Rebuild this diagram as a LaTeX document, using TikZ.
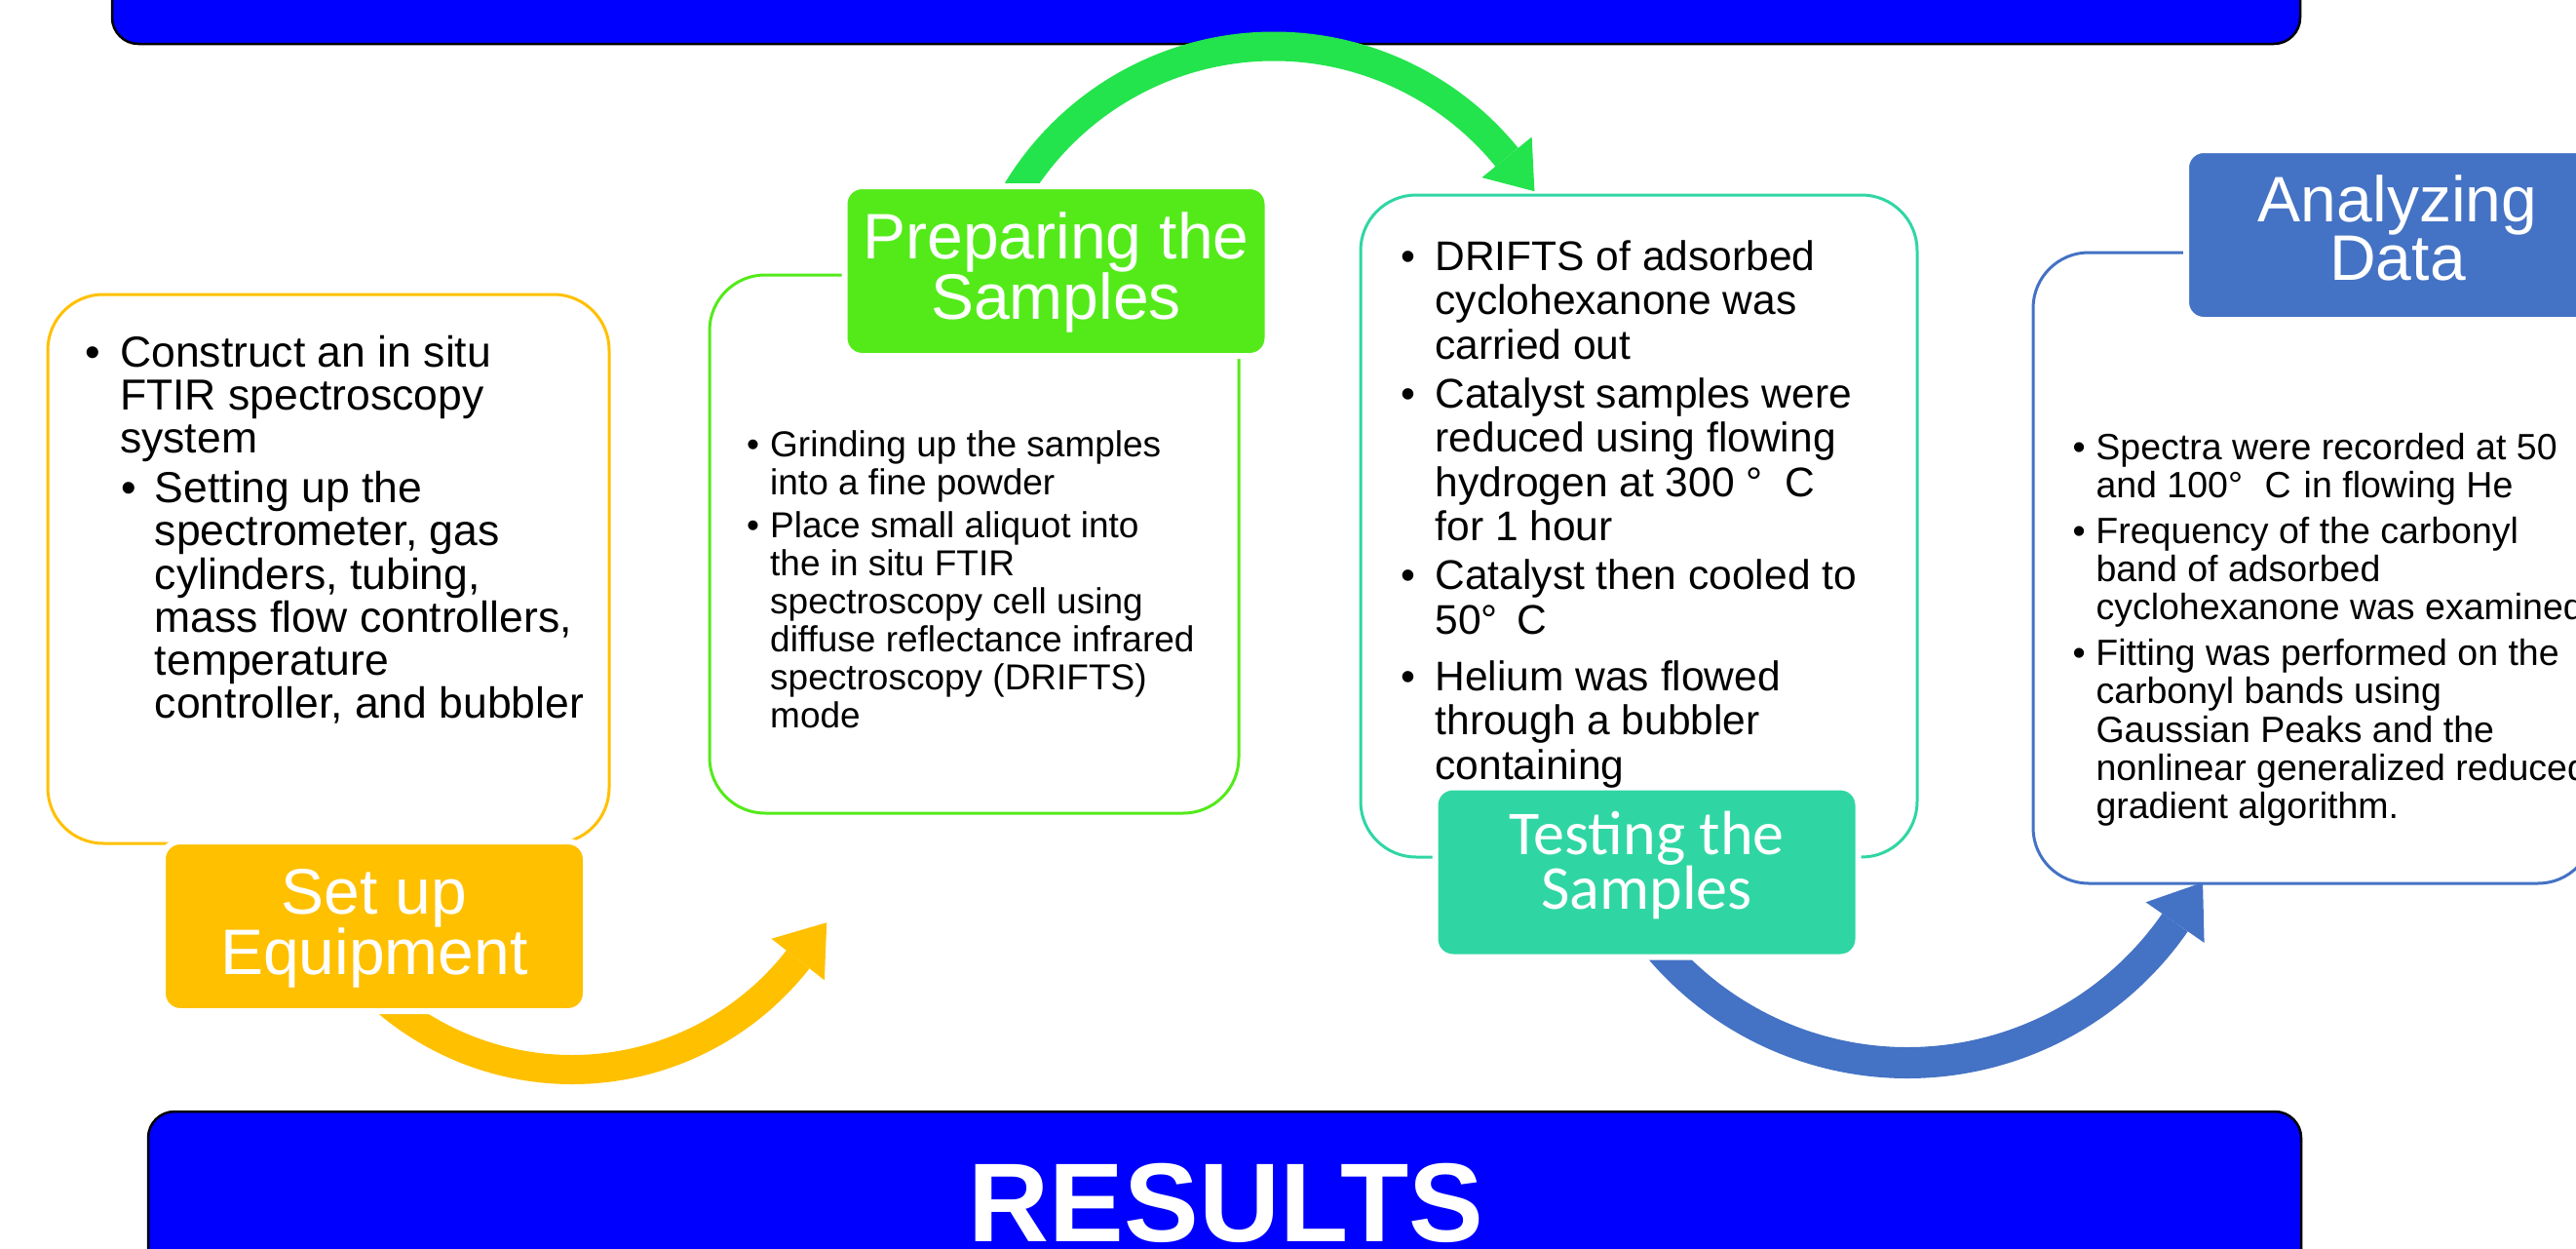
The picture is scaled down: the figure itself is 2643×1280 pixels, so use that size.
\documentclass[tikz,border=0pt]{standalone}
\usepackage{fontspec}
\setmainfont{Liberation Sans}
\newfontfamily\carlito{Carlito}
\usetikzlibrary{calc}
\definecolor{cyel}{HTML}{FFC000}
\definecolor{cgrn}{RGB}{84,234,26}
\definecolor{carrg}{RGB}{35,228,76}
\definecolor{cteal}{RGB}{47,214,163}
\definecolor{cblu}{HTML}{4472C4}
\definecolor{cban}{HTML}{0000FF}
\newcommand{\fsz}[3][0.278em]{\fontsize{#2}{#3}\selectfont\spaceskip=#1\relax\xspaceskip=\spaceskip}
\newcommand{\bitem}[3][0pt]{\noindent\hangindent=#2\hangafter=1\hspace*{#1}\hbox to \dimexpr#2-#1\relax{•\hss}#3\par}
\tikzset{
  banner/.style={rectangle, rounded corners=27pt, fill=cban, draw=black, line width=2.5pt, inner sep=0pt},
  obox/.style={rectangle, rounded corners=57pt, draw=#1, line width=3pt, inner sep=0pt},
  tbox/.style={rectangle, rounded corners=18pt, fill=#1, draw=white, line width=6pt, inner sep=0pt, minimum width=434pt, minimum height=174pt},
  ttext/.style={anchor=base, inner sep=0pt, text=white, text width=430pt, align=center},
  btext/.style={anchor=base west, inner sep=0pt, text width=#1, align=left},
}
\begin{document}
\begin{tikzpicture}[x=1pt,y=1pt]
\useasboundingbox (0,0) rectangle (2643,-1280);
% banners
\node[banner, minimum width=2245pt, minimum height=125pt] (topban) at (1237.5,17.5) {};
\node[banner, minimum width=2209pt, minimum height=260pt] (botban) at (1256.5,-1270) {};
\node[anchor=base, inner sep=0pt, text=white] (results) at (1258,-1273) {\fsz{115pt}{115pt}\bfseries RESULTS};
% outline boxes
\node[obox=cyel, minimum width=576pt, minimum height=563pt] (b1) at (337,-583.5) {};
\node[obox=cgrn, minimum width=543pt, minimum height=552pt] (b2) at (999.5,-558) {};
\node[obox=cteal, minimum width=571pt, minimum height=679pt] (b3) at (1681.5,-539.5) {};
\node[obox=cblu, minimum width=575pt, minimum height=647pt] (b4) at (2373.5,-582.5) {};
% curved arrows
\coordinate (ya) at (587,-803);
\draw[cyel, line width=30pt] ($(ya)+(-132:294pt)$) arc[start angle=-132, end angle=-38, radius=294pt];
\fill[cyel] ($(ya)+(-38:294pt)+(52:48pt)$) -- ($(ya)+(-38:328.5pt)$) -- ($(ya)+(-38:259.5pt)$) -- cycle;
\coordinate (ga) at (1307,-355.5);
\draw[carrg, line width=30pt] ($(ga)+(152:308pt)$) arc[start angle=152, end angle=39.1, radius=308pt];
\fill[carrg] ($(ga)+(39.1:308pt)+(-50.9:45pt)$) -- ($(ga)+(39.1:341pt)$) -- ($(ga)+(39.1:275pt)$) -- cycle;
\coordinate (ba) at (1957,-756);
\draw[cblu, line width=32pt] ($(ba)+(-142:334pt)$) arc[start angle=-142, end angle=-34.7, radius=334pt];
\fill[cblu] ($(ba)+(-34.7:334pt)+(55.3:50pt)$) -- ($(ba)+(-34.7:370.5pt)$) -- ($(ba)+(-34.7:297.5pt)$) -- cycle;
% title boxes
\node[tbox=cyel] (setup) at (384,-950) {};
\node[tbox=cgrn] (prep) at (1083.5,-278) {};
\node[tbox=cteal] (test) at (1689.5,-894.5) {};
\node[tbox=cblu] (anal) at (2460,-241) {};
\node[ttext] (setupT) at (384,-937) {\fsz{66pt}{67pt}Set up\\Equipment};
\node[ttext] (prepT) at (1083.5,-265) {\fsz{66pt}{69pt}Preparing the\\Samples};
\node[ttext] (testT) at (1689.5,-876) {\carlito\fsz[0.226em]{64pt}{71pt}Testing the\\Samples};
\node[ttext] (analT) at (2460,-227) {\fsz{66pt}{68pt}Analyzing\\Data};
% body texts
\node[btext=560pt] (t1) at (87,-376) {\fsz{44.5pt}{44.3pt}\setlength{\parskip}{6.5pt}%
\bitem{36pt}{Construct an in situ\newline FTIR spectroscopy\newline system}%
\bitem[37pt]{71.7pt}{Setting up the\newline spectrometer, gas\newline cylinders, tubing,\newline mass flow controllers,\newline temperature\newline controller, and bubbler}};
\node[btext=520pt] (t2) at (766,-468) {\fsz{37pt}{39pt}\setlength{\parskip}{5pt}%
\bitem{24pt}{Grinding up the samples\newline into a fine powder}%
\bitem{24pt}{Place small aliquot into\newline the in situ FTIR\newline spectroscopy cell using\newline diffuse reflectance infrared\newline spectroscopy (DRIFTS)\newline mode}};
\node[btext=560pt] (t3) at (1437.4,-277) {\fsz{42.5pt}{45.5pt}\setlength{\parskip}{4.5pt}%
\bitem{35pt}{DRIFTS of adsorbed\newline cyclohexanone was\newline carried out}%
\bitem{35pt}{Catalyst samples were\newline reduced using flowing\newline hydrogen at 300 °\hspace{0.55em}C\newline for 1 hour}%
\bitem{35pt}{Catalyst then cooled to\newline 50°\hspace{0.45em}C}%
\vspace{8pt}%
\bitem{35pt}{Helium was flowed\newline through a bubbler\newline containing}};
\node[btext=700pt] (t4) at (2126.3,-471) {\fsz{37.5pt}{39.3pt}\setlength{\parskip}{7.5pt}%
\bitem{24pt}{Spectra were recorded at 50\newline and 100°\hspace{0.6em}C\hspace{0.35em}in flowing He}%
\bitem{24pt}{Frequency of the carbonyl\newline band of adsorbed\newline cyclohexanone was examined}%
\bitem{24pt}{Fitting was performed on the\newline carbonyl bands using\newline Gaussian Peaks and the\newline nonlinear generalized reduced\newline gradient algorithm.}};
\end{tikzpicture}
\end{document}
